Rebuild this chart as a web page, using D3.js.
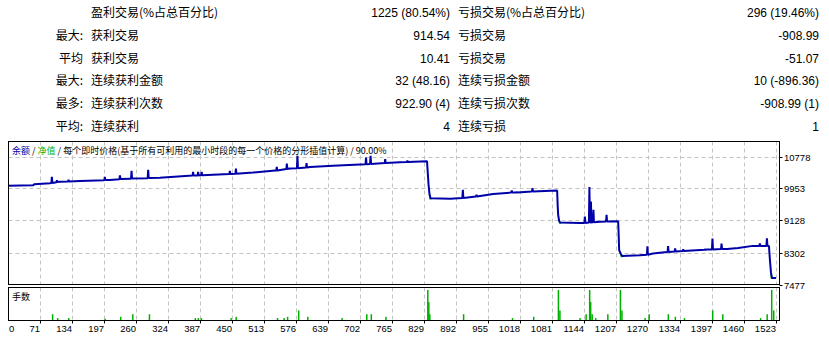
<!DOCTYPE html>
<html>
<head>
<meta charset="utf-8">
<script src="https://cdn.jsdelivr.net/npm/d3@7"></script>
<style>
  body { margin: 0; background: #fff; }
  svg { display: block; font-family: "Liberation Sans", Arial, "Noto Sans CJK SC", sans-serif; }
</style>
</head>
<body>
<svg id="chart" width="829" height="339"></svg>
<script>
// ── Stats table ──
const statPrefix      = ['', '最大:', '平均', '最大:', '最多:', '平均:'];
const statLeftLabels  = ['盈利交易(%占总百分比)', '获利交易', '获利交易', '连续获利金额', '连续获利次数', '连续获利'];
const statLeftValues  = ['1225 (80.54%)', '914.54', '10.41', '32 (48.16)', '922.90 (4)', '4'];
const statRightLabels = ['亏损交易(%占总百分比)', '亏损交易', '亏损交易', '连续亏损金额', '连续亏损次数', '连续亏损'];
const statRightValues = ['296 (19.46%)', '-908.99', '-51.07', '10 (-896.36)', '-908.99 (1)', '1'];

// ── Chart axes ──
const yTicks = [7477, 8302, 9128, 9953, 10778];
const xTickLabels = ['0', '71', '134', '197', '260', '324', '387', '450', '513', '576', '639', '702',
  '765', '829', '892', '955', '1018', '1081', '1144', '1207', '1270', '1334', '1397', '1460', '1523'];
const legendParts = ['余额', ' / ', '净值', ' / 每个即时价格(基于所有可利用的最小时段的每一个价格的分形插值计算) / 90.00%'];
const volumeTitle = '手数';

// balance by trade number [trade, balance]
const balance = [
  [0,10025],[50,10038],[52,10064],[83,10090],
  [86,10095],[87,10251],[88,10097],
  [96,10116],[97,10163],[98,10118],[103,10129],
  [119,10134],[120,10181],[121,10135],[143,10147],
  [191,10168],[192,10251],[193,10169],[202,10173],
  [221,10194],[222,10293],[223,10195],[242,10207],
  [244,10207],[245,10407],[246,10208],
  [277,10220],[278,10433],[279,10221],[301,10233],
  [366,10285],[367,10381],[368,10286],
  [376,10290],[377,10381],[378,10290],[381,10293],
  [383,10293],[384,10381],[385,10294],
  [439,10324],[440,10407],[441,10324],
  [451,10332],[452,10467],[453,10333],[486,10363],[530,10415],
  [532,10415],[533,10511],[534,10416],
  [552,10454],[553,10597],[554,10455],[559,10467],
  [573,10472],[574,10797],[575,10473],
  [591,10493],[592,10605],[593,10494],[599,10506],[644,10537],
  [709,10579],[710,10753],[711,10579],[712,10579],
  [718,10584],[719,10797],[720,10584],
  [747,10610],[748,10709],[749,10610],[777,10631],
  [791,10636],[792,10675],[793,10636],[831,10657],
  [832,10441],[834,10051],[836,9791],[838,9700],[877,9687],
  [901,9706],[902,9921],[903,9708],
  [928,9747],[929,9791],[930,9747],[962,9809],
  [998,9848],[999,9903],[1000,9848],
  [1008,9851],[1009,9861],[1010,9851],
  [1039,9877],[1040,9965],[1041,9877],[1089,9903],
  [1090,9531],[1091,9271],[1093,9115],[1095,9076],[1134,9060],
  [1143,9063],[1144,9227],[1145,9063],
  [1152,9076],[1153,9991],[1154,9076],
  [1155,9078],[1156,9617],[1157,9078],
  [1160,9080],[1161,9401],[1162,9080],[1174,9097],
  [1186,9102],[1187,9271],[1188,9102],[1210,9107],
  [1211,8751],[1212,8361],[1215,8270],[1218,8213],[1253,8231],
  [1267,8244],[1268,8465],[1269,8244],[1279,8275],[1307,8317],
  [1308,8317],[1309,8465],[1310,8318],
  [1322,8327],[1323,8405],[1324,8327],
  [1338,8343],[1339,8387],[1340,8343],
  [1381,8374],[1382,8379],[1383,8375],[1386,8379],
  [1396,8382],[1397,8665],[1398,8382],
  [1414,8390],[1415,8535],[1416,8390],[1426,8395],[1448,8421],[1477,8473],
  [1490,8473],[1491,8535],[1492,8473],
  [1504,8473],[1505,8665],[1506,8473],[1509,8473],
  [1511,8101],[1513,7789],[1515,7646],[1523,7646]
];

// equity visible only at the bottom of the big drops
const equityDips = [
  [[836,9791],[837,9690],[840,9690]],
  [[1093,9115],[1094,9062],[1097,9062]],
  [[1215,8270],[1216,8200],[1219,8200]],
  [[1513,7789],[1514,7640],[1517,7640]]
];

// lots by trade number [trade, lots]
const volume = [
  [88,0.09],[98,0.03],[120,0.03],[192,0.02],[223,0.05],[247,0.09],[280,0.09],
  [371,0.03],[377,0.03],[383,0.03],[442,0.03],[452,0.05],[534,0.03],[547,0.03],
  [554,0.05],[576,0.15],[594,0.05],[662,0.03],[711,0.09],[720,0.09],[749,0.05],
  [832,0.47],[834,0.28],[836,0.09],[903,0.09],[1000,0.03],[1042,0.05],
  [1091,0.47],[1094,0.15],[1134,0.03],[1146,0.09],[1153,0.47],[1155,0.28],
  [1158,0.09],[1165,0.03],[1189,0.09],[1214,0.47],[1217,0.15],[1263,0.03],
  [1271,0.09],[1309,0.09],[1323,0.05],[1341,0.03],[1397,0.15],[1417,0.09],
  [1492,0.03],[1505,0.09],[1514,0.47],[1518,0.15]
];

const svg = d3.select('#chart');
const cjk = '"Noto Sans CJK SC", sans-serif';
const numFont = '"Liberation Sans", Arial, sans-serif';

// ── Stats table ──
const rowY = i => 17 + i * 22.8;
const rows = svg.append('g').attr('fill', '#000');
rows.selectAll('.pre').data(statPrefix).enter().append('text')
  .attr('x', 83).attr('y', (d, i) => rowY(i))
  .attr('text-anchor', 'end').style('font-family', cjk).style('font-size', '12px')
  .text(d => d);
rows.selectAll('.ll').data(statLeftLabels).enter().append('text')
  .attr('x', 91).attr('y', (d, i) => rowY(i))
  .style('font-family', cjk).style('font-size', '12px').text(d => d);
rows.selectAll('.lv').data(statLeftValues).enter().append('text')
  .attr('x', 450).attr('y', (d, i) => rowY(i)).attr('text-anchor', 'end')
  .style('font-family', numFont).style('font-size', '12px').text(d => d);
rows.selectAll('.rl').data(statRightLabels).enter().append('text')
  .attr('x', 458).attr('y', (d, i) => rowY(i))
  .style('font-family', cjk).style('font-size', '12px').text(d => d);
rows.selectAll('.rv').data(statRightValues).enter().append('text')
  .attr('x', 819).attr('y', (d, i) => rowY(i)).attr('text-anchor', 'end')
  .style('font-family', numFont).style('font-size', '12px').text(d => d);

// ── Scales ──
const L = 8.5, R = 779.5, mainTop = 141.5, mainBot = 284.5, volTop = 287.5, volBot = 320.5;
const x = d3.scaleLinear().domain([0, 1523]).range([8, 776]);
const y = d3.scaleLinear().domain([yTicks[0], yTicks[yTicks.length - 1]]).range([284.5, 156.5]);
const yVol = d3.scaleLinear().domain([0, 0.5]).range([320, 288]);
const xGrid = d3.scalePoint().domain(xTickLabels).range([x(0), x(1523)]);

const gridColor = '#c4c4c4';

// vertical grid, both panels
xTickLabels.slice(1).forEach(t => {
  const gx = Math.round(xGrid(t)) + 0.5;
  [[mainTop, mainBot], [volTop, volBot]].forEach(([a, b]) => {
    svg.append('line').attr('x1', gx).attr('x2', gx).attr('y1', a).attr('y2', b)
      .attr('stroke', gridColor).attr('stroke-dasharray', '4,3');
  });
  svg.append('line').attr('x1', gx).attr('x2', gx).attr('y1', volBot).attr('y2', volBot + 3)
    .attr('stroke', '#000');
});

// horizontal grid, main panel
yTicks.slice(1).forEach(t => {
  const gy = Math.round(y(t)) + 0.5;
  svg.append('line').attr('x1', L).attr('x2', R).attr('y1', gy).attr('y2', gy)
    .attr('stroke', gridColor).attr('stroke-dasharray', '4,3');
});

// ── Equity (green) then balance (blue) ──
const line = d3.line().x(d => x(d[0])).y(d => y(d[1]));
equityDips.forEach(seg => {
  svg.append('path').datum(seg).attr('d', line)
    .attr('fill', 'none').attr('stroke', '#00b400').attr('stroke-width', 1.5);
});
svg.append('path').datum(balance).attr('d', line)
  .attr('fill', 'none').attr('stroke', '#0000a8').attr('stroke-width', 2)
  .attr('stroke-linejoin', 'bevel');

// ── Volume bars ──
svg.selectAll('.vbar').data(volume).enter().append('rect')
  .attr('x', d => x(d[0]) - 0.5).attr('width', 1.5)
  .attr('y', d => yVol(d[1])).attr('height', d => yVol(0) - yVol(d[1]))
  .attr('fill', '#00b000');

// ── Panel borders ──
svg.append('rect').attr('x', L).attr('y', mainTop).attr('width', R - L).attr('height', mainBot - mainTop)
  .attr('fill', 'none').attr('stroke', '#000');
svg.append('rect').attr('x', L).attr('y', volTop).attr('width', R - L).attr('height', volBot - volTop)
  .attr('fill', 'none').attr('stroke', '#000');

// ── Right axis ──
yTicks.forEach(t => {
  const gy = Math.round(y(t)) + 0.5;
  svg.append('line').attr('x1', R).attr('x2', R + 3).attr('y1', gy).attr('y2', gy).attr('stroke', '#000');
  svg.append('text').attr('x', 784).attr('y', gy).attr('dy', '0.35em')
    .style('font-family', numFont).style('font-size', '9.5px').attr('fill', '#000')
    .text(t);
});

// ── Bottom axis labels ──
svg.selectAll('.xl').data(xTickLabels).enter().append('text')
  .attr('x', (d, i) => i === 0 ? 9 : xGrid(d))
  .attr('y', 332)
  .attr('text-anchor', (d, i) => i === 0 ? 'start' : 'end')
  .style('font-family', numFont).style('font-size', '9.5px').attr('fill', '#000')
  .text(d => d);

// ── Legend ──
const legendColors = ['#0000a8', '#000', '#00b400', '#000'];
const legend = svg.append('text').attr('x', 12).attr('y', 154)
  .style('font-family', cjk).style('font-size', '9px');
legend.selectAll('tspan').data(legendParts).enter().append('tspan')
  .attr('fill', (d, i) => legendColors[i]).style('white-space', 'pre').text(d => d);

svg.append('text').attr('x', 12).attr('y', 300)
  .style('font-family', cjk).style('font-size', '9px').attr('fill', '#000')
  .text(volumeTitle);
</script>
</body>
</html>
